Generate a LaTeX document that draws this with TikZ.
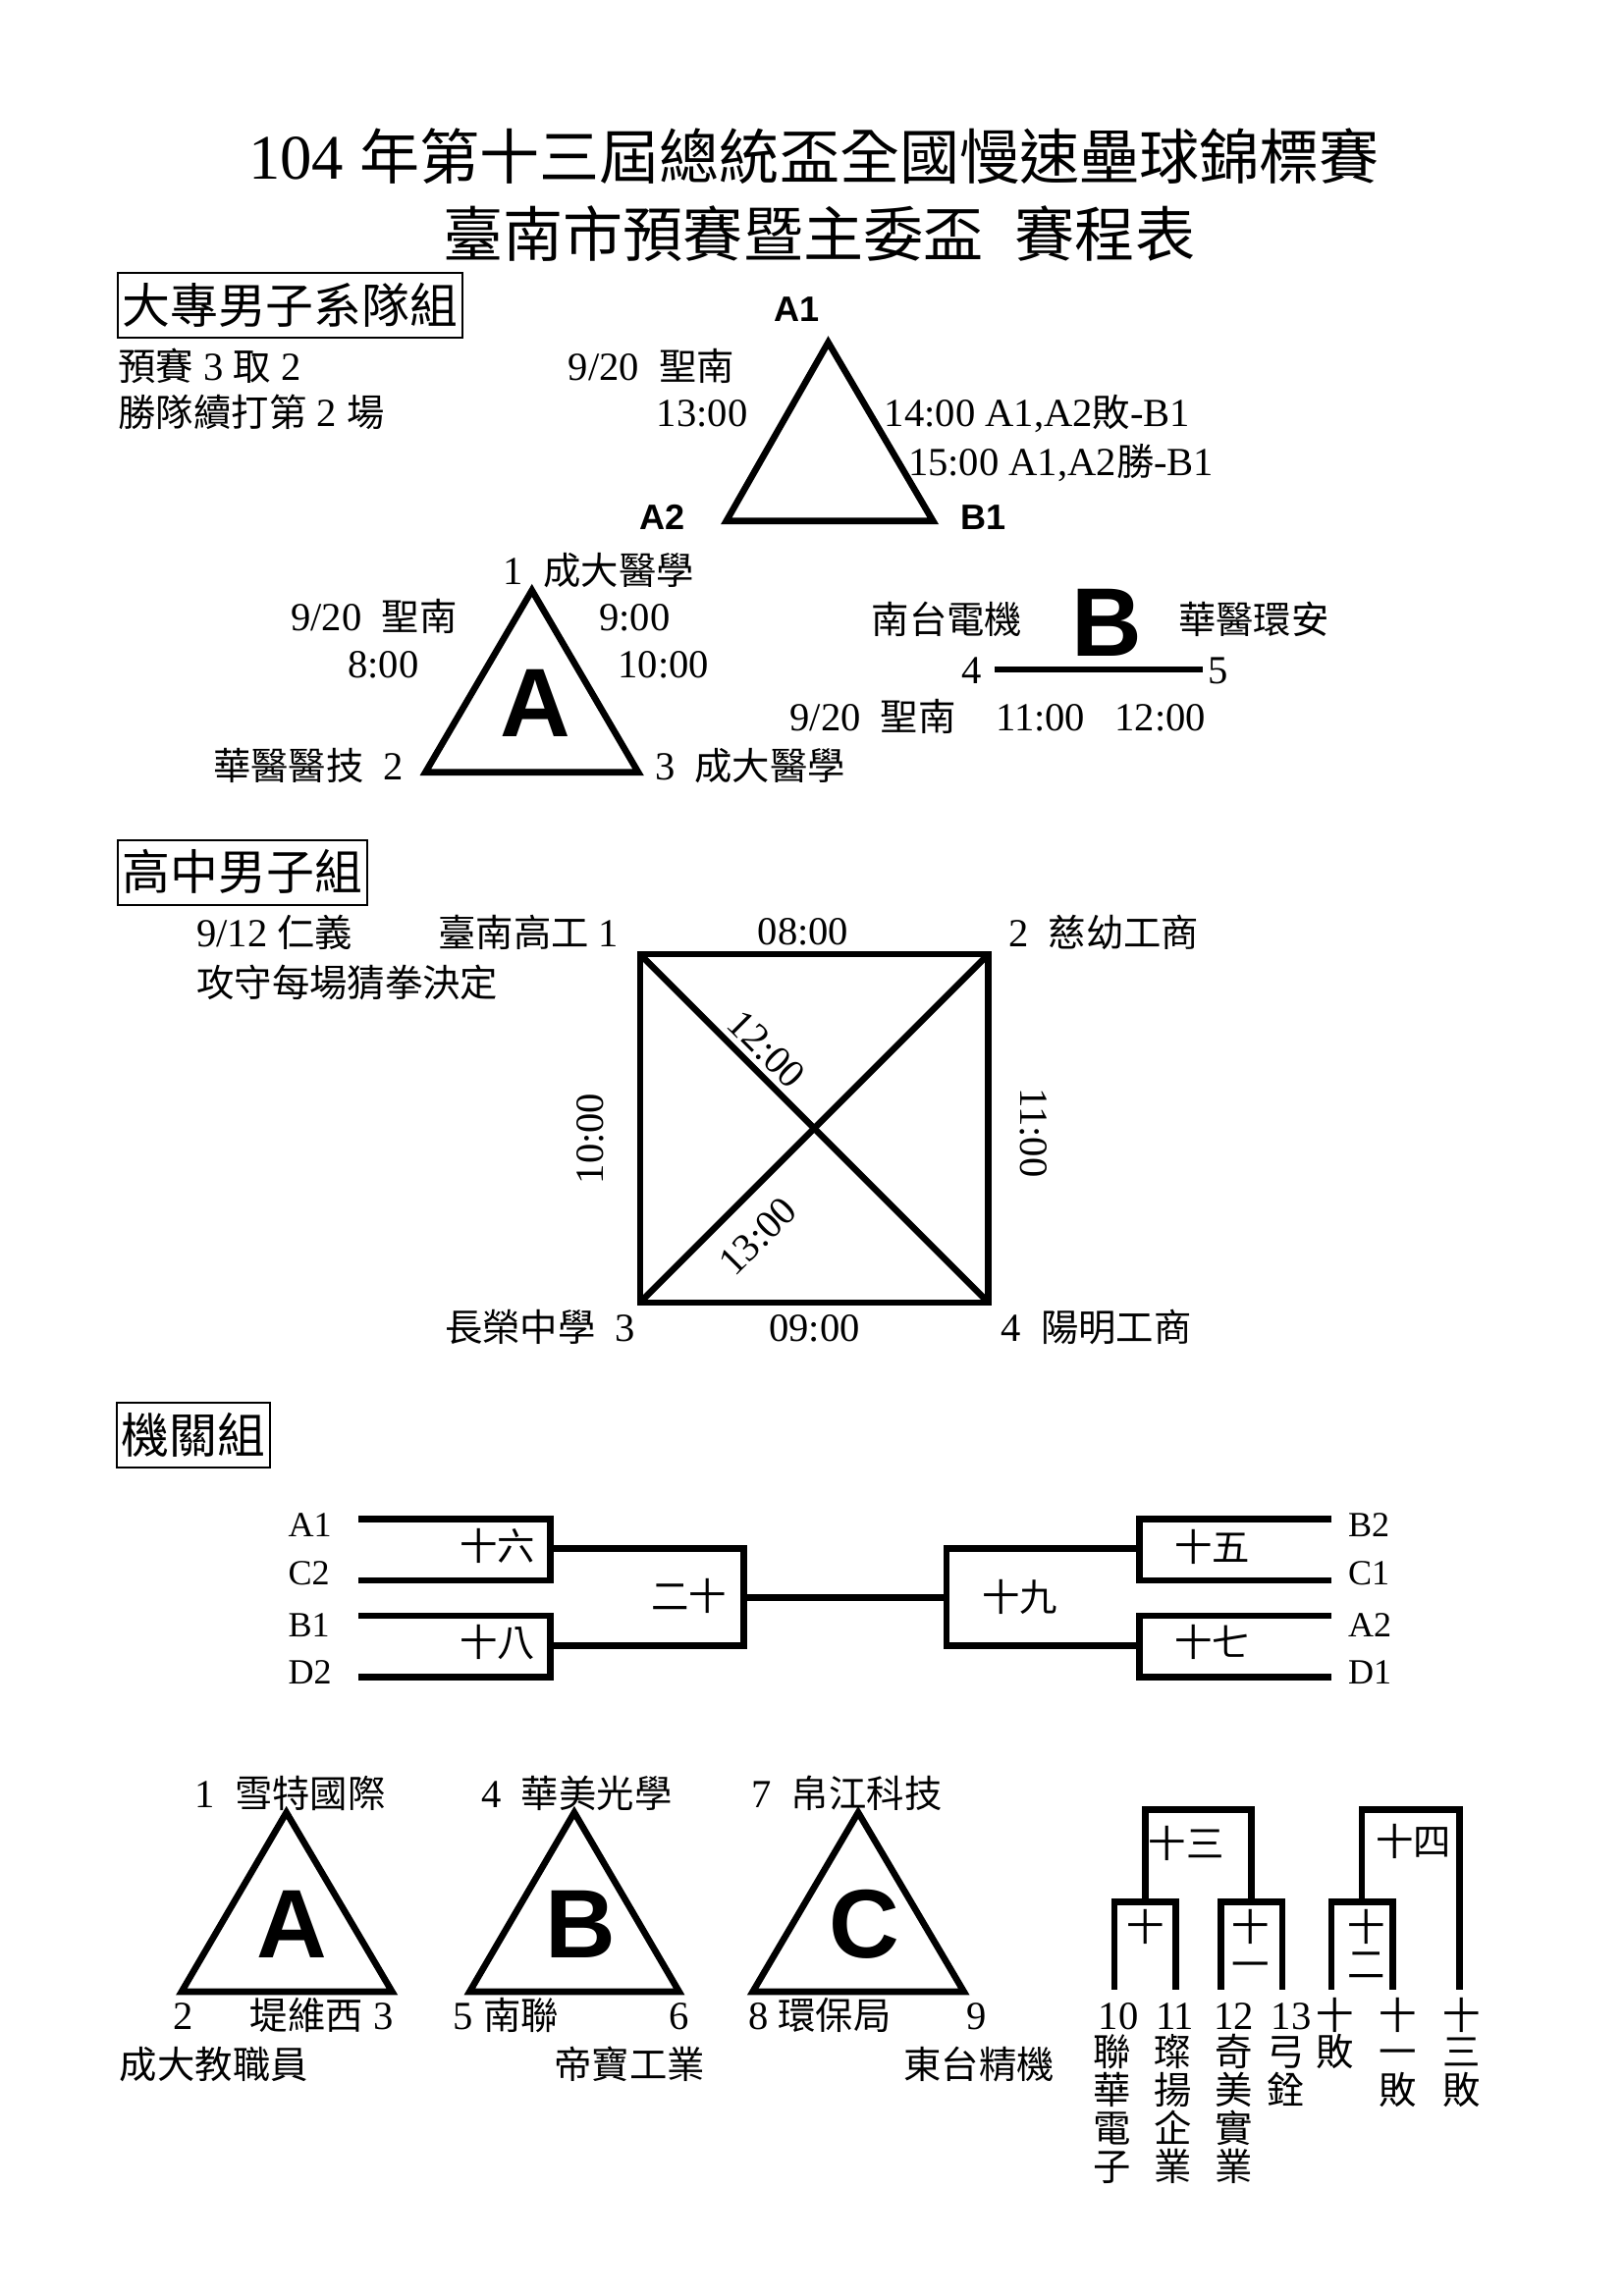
\documentclass[tikz,border=0pt]{standalone}
\usepackage{fontspec}
\setmainfont{Liberation Serif}
\newfontfamily\zhfont[Scale=0.945]{Noto Sans CJK TC}
\newfontfamily\boldsans{Liberation Sans}
\newcommand{\zh}[1]{{\zhfont #1}}
\usetikzlibrary{positioning}

\tikzset{
  txt/.style={inner sep=0pt, text height=21.6pt, text depth=2.7pt, font=\fontsize{27}{30}\selectfont},
  seed/.style={txt, font=\fontsize{24}{27}\selectfont},
  title/.style={inner sep=0pt, text height=34.4pt, text depth=4.3pt, font=\fontsize{43}{48}\selectfont},
  groupbox/.style={draw, line width=1.4pt, inner xsep=3pt, inner ysep=0pt, minimum height=44pt,
    text height=27.5pt, text depth=3.4pt, font=\fontsize{34.4}{38}\selectfont},
  vtx/.style={inner sep=0pt, font=\boldsans\bfseries\fontsize{24}{27}\selectfont},
  letter/.style={inner sep=0pt, font=\boldsans\bfseries\fontsize{66}{70}\selectfont},
  heavy/.style={line width=4.4pt},
}

\begin{document}
\begin{tikzpicture}[x=1pt, y=-1pt]
\useasboundingbox (0,0) rectangle (1100,1555.6);

% title
\node[title] (title1) at (551.4,106) {104 \zh{年第十三屆總統盃全國慢速壘球錦標賽}};
\node[title] (title2) at (554.9,159) {\zh{臺南市預賽暨主委盃}~~\zh{賽程表}};

% college men
\node[groupbox, anchor=west] (grpA) at (79,207) {\zh{大專男子系隊組}};
\node[txt, anchor=west] (rule1) at (80,248.3) {\zh{預賽} 3 \zh{取} 2};
\node[txt, anchor=west] (rule2) at (80,279.3) {\zh{勝隊續打第} 2 \zh{場}};

\coordinate (fA1) at (561,232);
\coordinate (fA2) at (492,353);
\coordinate (fB1) at (632,353);
\draw[heavy] (fA1) -- (fA2) -- (fB1) -- cycle;
\node[vtx] (lA1) at (539.5,209.5) {A1};
\node[vtx] (lA2) at (448.5,350.5) {A2};
\node[vtx] (lB1) at (666,350.5) {B1};
\node[txt, anchor=west] (fdate) at (384.8,248.3) {9/20~~\zh{聖南}};
\node[txt, anchor=east] (f13) at (506.6,279.3) {13:00};
\node[txt, anchor=west] (f14) at (599,279.3) {14:00 A1,A2\zh{敗}-B1};
\node[txt, anchor=west] (f15) at (615,312.6) {15:00 A1,A2\zh{勝}-B1};

\coordinate (ga1) at (360.3,400);
\coordinate (ga2) at (288.2,523.2);
\coordinate (ga3) at (432.3,523.2);
\draw[heavy] (ga1) -- (ga2) -- (ga3) -- cycle;
\node[letter] (gA) at (363,476.6) {A};
\node[txt, anchor=west] (a1name) at (340.9,386.8) {1~~\zh{成大醫學}};
\node[txt, anchor=west] (adate) at (196.8,418) {9/20~~\zh{聖南}};
\node[txt, anchor=west] (a9) at (405.7,418) {9:00};
\node[txt, anchor=west] (a8) at (235.5,450) {8:00};
\node[txt, anchor=west] (a10) at (418.5,450) {10:00};
\node[txt, anchor=east] (a2name) at (273.7,519) {\zh{華醫醫技}~~2};
\node[txt, anchor=west] (a3name) at (443.4,519) {3~~\zh{成大醫學}};

\node[txt, anchor=west] (b4name) at (590.3,420) {\zh{南台電機}};
\node[letter] (gB) at (749.7,421.7) {B};
\node[txt, anchor=west] (b5name) at (798,420) {\zh{華醫環安}};
\node[txt] (b4) at (658.4,453.5) {4};
\node[txt] (b5) at (825.4,453.5) {5};
\draw[heavy, shorten <=8.2pt, shorten >=4pt] (b4) -- (b5);
\node[txt, anchor=west] (bdate) at (534.8,485.5) {9/20~~\zh{聖南}~~~~11:00~~~12:00};

% high school men
\node[groupbox, anchor=west] (grpB) at (79.3,591) {\zh{高中男子組}};
\node[txt, anchor=west] (hdate) at (133,632) {9/12 \zh{仁義}};
\node[txt, anchor=west] (hrule) at (133,666) {\zh{攻守每場猜拳決定}};

\coordinate (s1) at (433.5,646.5);
\coordinate (s2) at (669.5,646.5);
\coordinate (s3) at (433.5,882.5);
\coordinate (s4) at (669.5,882.5);
\draw[heavy] (s1) -- (s2) -- (s4) -- (s3) -- cycle;
\draw[heavy] (s1) -- node[txt, pos=0.318, sloped, above, inner sep=1.4pt] (h12) {12:00} (s4);
\draw[heavy] (s3) -- node[txt, pos=0.264, sloped, below, inner sep=9.6pt] (h13) {13:00} (s2);
\node[txt, anchor=west] (h1name) at (296.6,632) {\zh{臺南高工} 1};
\node[txt] (h08) at (544,631) {08:00};
\node[txt, anchor=west] (h2name) at (683,632) {2~~\zh{慈幼工商}};
\node[txt, rotate=90] (h10) at (399.3,771.5) {10:00};
\node[txt, rotate=-90] (h11) at (701,767.5) {11:00};
\node[txt, anchor=east] (h3name) at (430.6,899.6) {\zh{長榮中學}~~3};
\node[txt] (h09) at (551.6,899.6) {09:00};
\node[txt, anchor=west] (h4name) at (677.8,899.6) {4~~\zh{陽明工商}};

% government agencies
\node[groupbox, anchor=west] (grpC) at (78.7,972.5) {\zh{機關組}};

\node[seed, anchor=west] (tA1) at (195,1032) {A1};
\node[seed, anchor=west] (tC2) at (195,1064) {C2};
\node[seed, anchor=west] (tB1) at (195,1099.5) {B1};
\node[seed, anchor=west] (tD2) at (195,1131.7) {D2};
\node[seed, anchor=west] (tB2) at (913,1032) {B2};
\node[seed, anchor=west] (tC1) at (913,1064) {C1};
\node[seed, anchor=west] (tA2) at (913,1099.5) {A2};
\node[seed, anchor=west] (tD1) at (913,1131.7) {D1};

\coordinate (eA1) at (242.8,1029);
\coordinate (eC2) at (242.8,1070.8);
\coordinate (eB1) at (242.8,1094.7);
\coordinate (eD2) at (242.8,1136.1);
\coordinate (eB2) at (901.9,1029);
\coordinate (eC1) at (901.9,1070.8);
\coordinate (eA2) at (901.9,1094.7);
\coordinate (eD1) at (901.9,1136.1);
\coordinate (m16) at (372.9,1049.3);
\coordinate (m18) at (372.9,1115.1);
\coordinate (m20) at (503.7,1082.3);
\coordinate (m15) at (771.8,1049.3);
\coordinate (m17) at (771.8,1115.1);
\coordinate (m19) at (641,1082.3);
\draw[heavy] (eA1) -| (m16) |- (eC2);
\draw[heavy] (eB1) -| (m18) |- (eD2);
\draw[heavy] (m16) -| (m20) |- (m18);
\draw[heavy] (eB2) -| (m15) |- (eC1);
\draw[heavy] (eA2) -| (m17) |- (eD1);
\draw[heavy] (m15) -| (m19) |- (m17);
\draw[heavy] (m20) -- (m19);
\node[txt] (g16) at (337,1047.5) {\zh{十六}};
\node[txt] (g18) at (337,1113) {\zh{十八}};
\node[txt] (g20) at (466.7,1081.9) {\zh{二十}};
\node[txt] (g19) at (691,1082) {\zh{十九}};
\node[txt] (g15) at (821,1048) {\zh{十五}};
\node[txt] (g17) at (821,1113) {\zh{十七}};

\coordinate (ca1) at (194,1228);
\coordinate (ca2) at (123,1349.4);
\coordinate (ca3) at (265.6,1349.4);
\coordinate (cb1) at (389,1228);
\coordinate (cb2) at (318.1,1349.4);
\coordinate (cb3) at (460,1349.4);
\coordinate (cc1) at (581.3,1228);
\coordinate (cc2) at (509.9,1349.4);
\coordinate (cc3) at (652.9,1349.4);
\draw[heavy] (ca1) -- (ca2) -- (ca3) -- cycle;
\draw[heavy] (cb1) -- (cb2) -- (cb3) -- cycle;
\draw[heavy] (cc1) -- (cc2) -- (cc3) -- cycle;
\node[letter] (cA) at (197.6,1304) {A};
\node[letter] (cB) at (393.5,1304) {B};
\node[letter] (cC) at (585.3,1304) {C};

\node[txt, anchor=west] (c1name) at (131.9,1215) {1~~\zh{雪特國際}};
\node[txt, anchor=west] (c4name) at (325.9,1215) {4~~\zh{華美光學}};
\node[txt, anchor=west] (c7name) at (508.8,1215) {7~~\zh{帛江科技}};
\node[txt] (c2) at (124.1,1365.6) {2};
\node[txt, anchor=east] (c3name) at (266.5,1365.6) {\zh{堤維西} 3};
\node[txt, anchor=west] (c5name) at (307,1365.6) {5 \zh{南聯}};
\node[txt] (c6) at (460,1365.6) {6};
\node[txt, anchor=west] (c8name) at (506.6,1365.6) {8 \zh{環保局}};
\node[txt] (c9) at (661.2,1365.6) {9};
\node[txt, anchor=west] (c2name) at (80.9,1398.9) {\zh{成大教職員}};
\node[txt, anchor=east] (c6name) at (477.6,1398.9) {\zh{帝寶工業}};
\node[txt, anchor=west] (c9name) at (611.9,1398.9) {\zh{東台精機}};

% losers bracket
\coordinate (p10) at (754.9,1348);
\coordinate (p11) at (796.5,1348);
\coordinate (p12) at (827,1348);
\coordinate (p13) at (868.6,1348);
\coordinate (p14) at (901.8,1348);
\coordinate (p15) at (943.3,1348);
\coordinate (p16) at (988.7,1348);
\coordinate (k10) at (775.7,1288.5);
\coordinate (k11) at (847.8,1288.5);
\coordinate (k12) at (922.5,1288.5);
\coordinate (k13) at (811.75,1226);
\coordinate (k14) at (955.6,1226);
\draw[heavy] (p10) |- (k10) -| (p11);
\draw[heavy] (p12) |- (k11) -| (p13);
\draw[heavy] (p14) |- (k12) -| (p15);
\draw[heavy] (k10) |- (k13) -| (k11);
\draw[heavy] (k12) |- (k14) -| (p16);
\node[txt] (w13) at (803.6,1249) {\zh{十三}};
\node[txt] (w14) at (957.6,1248) {\zh{十四}};
\node[txt] (w10) at (775.9,1305.8) {\zh{十}};
\node[txt] (w11a) at (847,1305.8) {\zh{十}};
\node[txt] (w11b) at (847,1331) {\zh{一}};
\node[txt] (w12a) at (925.4,1305.8) {\zh{十}};
\node[txt] (w12b) at (925.4,1331) {\zh{二}};

\node[txt] (n10) at (757.7,1365.6) {10};
\node[txt] (n11) at (795.9,1365.6) {11};
\node[txt] (n12) at (835.8,1365.6) {12};
\node[txt] (n13) at (874.6,1365.6) {13};
\node[txt] (n14) at (904,1365.6) {\zh{十}};
\node[txt] (n15) at (946.6,1365.6) {\zh{十}};
\node[txt] (n16) at (989.8,1365.6) {\zh{十}};
\foreach \x/\chars [count=\k] in {753/{聯,華,電,子}, 794.8/{璨,揚,企,業}, 835.8/{奇,美,實,業},
    871.2/{弓,銓}, 904.5/{敗}, 946.6/{一,敗}, 989.8/{三,敗}}
  \foreach \c [count=\i] in \chars
    \node[txt] (st\k-\i) at (\x,1364.1+25.9*\i) {\zh{\c}};
\end{tikzpicture}
\end{document}
